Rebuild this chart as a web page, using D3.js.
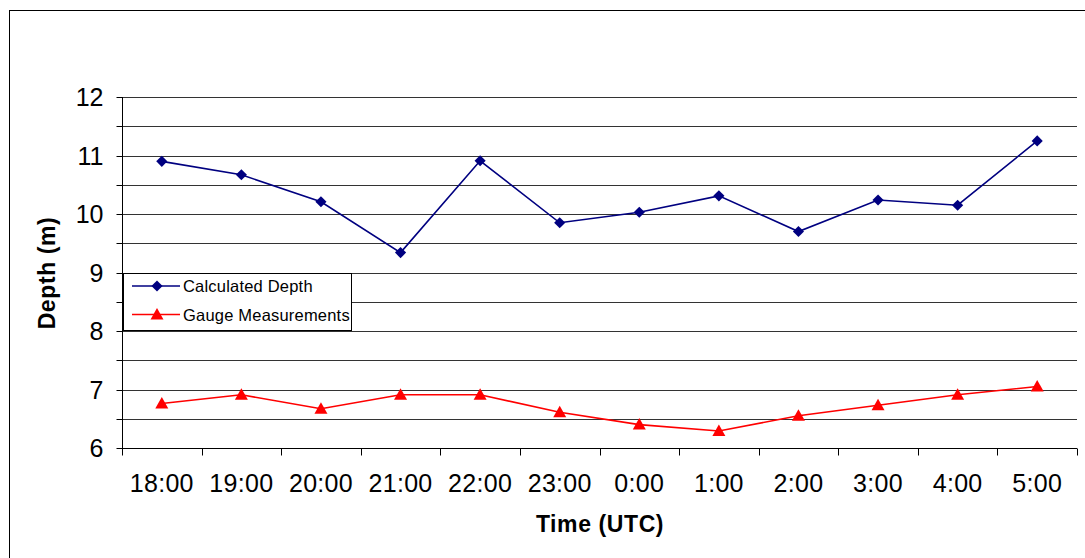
<!DOCTYPE html>
<html>
<head>
<meta charset="utf-8">
<script src="https://cdn.jsdelivr.net/npm/d3@7"></script>
<style>
  html, body { margin: 0; padding: 0; background: #fff; }
  svg { display: block; font-family: Arial, "Liberation Sans", sans-serif; }
</style>
</head>
<body>
<svg id="chart" width="1085" height="558"></svg>
<script>
// Hourly observations, 18:00 to 5:00 UTC
const times = ["18:00", "19:00", "20:00", "21:00", "22:00", "23:00",
               "0:00", "1:00", "2:00", "3:00", "4:00", "5:00"];
const calculatedDepth = [10.90, 10.67, 10.21, 9.34, 10.91, 9.85,
                         10.03, 10.31, 9.70, 10.24, 10.15, 11.25];
const gaugeMeasurements = [6.76, 6.91, 6.67, 6.91, 6.91, 6.61,
                           6.40, 6.29, 6.55, 6.73, 6.91, 7.05];
const yTicks = [6, 6.5, 7, 7.5, 8, 8.5, 9, 9.5, 10, 10.5, 11, 11.5, 12];
const seriesNames = ["Calculated Depth", "Gauge Measurements"];

const svg = d3.select("#chart");

// Outer chart frame (runs off the right and bottom edges)
svg.append("rect")
  .attr("x", 9.5).attr("y", 10.5)
  .attr("width", 1200).attr("height", 700)
  .attr("fill", "#fff").attr("stroke", "#000").attr("stroke-width", 1);

const plotLeft = 122, plotRight = 1077, plotTop = 97, plotBottom = 448;

const x = d3.scaleBand().domain(times).range([plotLeft, plotRight]).padding(0);
const y = d3.scaleLinear().domain([6, 12]).range([plotBottom, plotTop]);
const xIdx = d3.scaleLinear().domain([0, times.length]).range([plotLeft, plotRight]);

// Horizontal gridlines every half metre
svg.append("g")
  .selectAll("line")
  .data(yTicks.filter(d => d > 6))
  .join("line")
  .attr("x1", plotLeft).attr("x2", plotRight)
  .attr("y1", d => Math.round(y(d)) + 0.5)
  .attr("y2", d => Math.round(y(d)) + 0.5)
  .attr("stroke", "#333").attr("stroke-width", 1);

// Y axis
const yAxis = svg.append("g")
  .attr("transform", `translate(${plotLeft + 0.5},0)`)
  .call(d3.axisLeft(y)
    .tickValues(yTicks)
    .tickSize(6)
    .tickPadding(13)
    .tickFormat(d => Number.isInteger(d) ? d3.format("d")(d) : ""));
yAxis.select(".domain").attr("stroke", "#000").attr("d", `M0,${plotTop}V${plotBottom}`);
yAxis.selectAll(".tick line").attr("stroke", "#000");
yAxis.selectAll(".tick").attr("transform", d => `translate(0,${Math.round(y(d)) + 0.5})`);
yAxis.selectAll("text")
  .attr("font-size", 25).attr("fill", "#000")
  .attr("font-family", "Arial, 'Liberation Sans', sans-serif");

// X axis: boundary ticks
const xTickAxis = svg.append("g")
  .attr("transform", `translate(0,${Math.round(plotBottom) + 0.5})`)
  .call(d3.axisBottom(xIdx)
    .tickValues(d3.range(times.length + 1))
    .tickSize(7)
    .tickFormat(""));
xTickAxis.select(".domain").attr("stroke", "#000").attr("d", `M${plotLeft},0H${plotRight}`);
xTickAxis.selectAll(".tick line").attr("stroke", "#000");
xTickAxis.selectAll(".tick").attr("transform", d => `translate(${Math.round(xIdx(d)) + 0.5},0)`);

// X axis: category labels centred in each band
const xLabelAxis = svg.append("g")
  .attr("transform", `translate(0,${plotBottom})`)
  .call(d3.axisBottom(x).tickSize(0).tickPadding(26));
xLabelAxis.select(".domain").remove();
xLabelAxis.selectAll("text")
  .attr("font-size", 25).attr("fill", "#000")
  .attr("letter-spacing", 0.3)
  .attr("font-family", "Arial, 'Liberation Sans', sans-serif");

// Axis titles
svg.append("text")
  .attr("x", 600).attr("y", 532)
  .attr("text-anchor", "middle")
  .attr("font-size", 23).attr("font-weight", "bold")
  .attr("letter-spacing", 0.6)
  .text("Time (UTC)");

svg.append("text")
  .attr("transform", "translate(55,273) rotate(-90)")
  .attr("text-anchor", "middle")
  .attr("font-size", 23).attr("font-weight", "bold")
  .attr("letter-spacing", 0.6)
  .text("Depth (m)");

// Series
const cx = d => x(d) + x.bandwidth() / 2;
const line = d3.line().x(d => cx(d.t)).y(d => y(d.v));

const calc = times.map((t, i) => ({ t, v: calculatedDepth[i] }));
const gauge = times.map((t, i) => ({ t, v: gaugeMeasurements[i] }));

const diamond = d3.symbol().type(d3.symbolSquare).size(62);
const triangle = "M0,-6.5L6.5,5L-6.5,5Z";

svg.append("path").datum(calc)
  .attr("d", line).attr("fill", "none")
  .attr("stroke", "#000080").attr("stroke-width", 1.6);
svg.append("g").selectAll("path").data(calc).join("path")
  .attr("d", diamond)
  .attr("transform", d => `translate(${cx(d.t)},${y(d.v)}) rotate(45)`)
  .attr("fill", "#000080");

svg.append("path").datum(gauge)
  .attr("d", line).attr("fill", "none")
  .attr("stroke", "#ff0000").attr("stroke-width", 1.6);
svg.append("g").selectAll("path").data(gauge).join("path")
  .attr("d", triangle)
  .attr("transform", d => `translate(${cx(d.t)},${y(d.v)})`)
  .attr("fill", "#ff0000");

// Legend
const legend = svg.append("g");
legend.append("rect")
  .attr("x", 123.5).attr("y", 273.5)
  .attr("width", 228).attr("height", 57)
  .attr("fill", "#fff").attr("stroke", "#000").attr("stroke-width", 1);

const legendItems = [
  { name: seriesNames[0], color: "#000080", marker: "diamond", yy: 286 },
  { name: seriesNames[1], color: "#ff0000", marker: "triangle", yy: 314.5 }
];
legendItems.forEach(item => {
  legend.append("line")
    .attr("x1", 132).attr("x2", 180)
    .attr("y1", item.yy).attr("y2", item.yy)
    .attr("stroke", item.color).attr("stroke-width", 1.6);
  legend.append("path")
    .attr("d", item.marker === "diamond" ? diamond() : triangle)
    .attr("transform", `translate(157,${item.yy})` + (item.marker === "diamond" ? " rotate(45)" : ""))
    .attr("fill", item.color);
  legend.append("text")
    .attr("x", 183).attr("y", item.yy + 6)
    .attr("font-size", 16.5)
    .attr("letter-spacing", 0.2)
    .attr("fill", "#000")
    .text(item.name);
});
</script>
</body>
</html>
